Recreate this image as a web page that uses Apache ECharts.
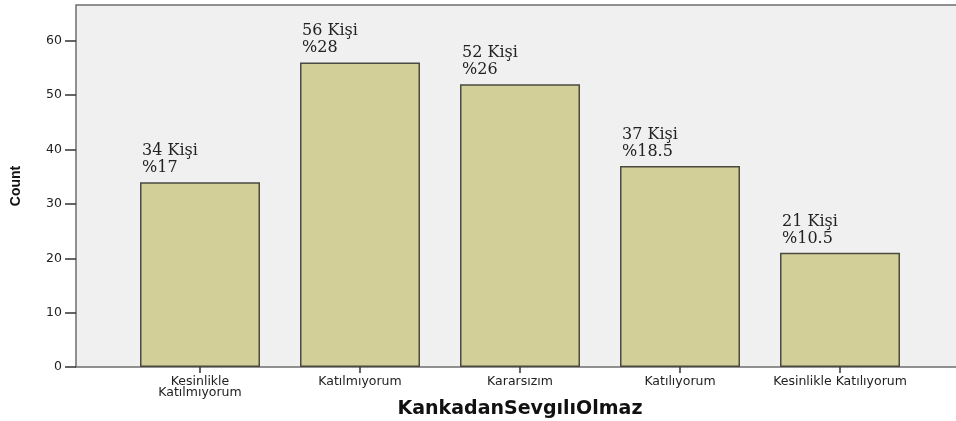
<!DOCTYPE html>
<html><head><meta charset="utf-8">
<script src="https://cdn.jsdelivr.net/npm/echarts@6/dist/echarts.min.js"></script>
<style>html,body{margin:0;padding:0;background:#fff}#c{width:956px;height:421px}</style>
</head><body><div id="c"></div>
<script>
const categories = ["Kesinlikle\nKatılmıyorum", "Katılmıyorum", "Kararsızım", "Katılıyorum", "Kesinlikle Katılıyorum"];
const counts = [34, 56, 52, 37, 21];
const percents = ["17", "28", "26", "18.5", "10.5"];
const yTicks = [0, 10, 20, 30, 40, 50, 60];

const yMax = 66.6;
const chart = echarts.init(document.getElementById('c'), null, {renderer: 'canvas'});
chart.setOption({
  backgroundColor: '#ffffff',
  animation: false,
  grid: [
    {left: 76, top: 5, right: -4, bottom: 54, show: true, backgroundColor: '#f0f0f0', borderColor: '#6e6e6e', borderWidth: 1.5, outerBoundsMode: 'none', containLabel: false},
    {left: 120, top: 5, right: 36, bottom: 54, outerBoundsMode: 'none', containLabel: false}
  ],
  xAxis: [
    {gridIndex: 0, type: 'category', data: ['a'], show: false},
    {gridIndex: 1, type: 'category', data: categories,
     axisLine: {show: false},
     axisTick: {show: true, alignWithLabel: true, length: 6, lineStyle: {color: '#333', width: 1.5}},
     axisLabel: {color: '#222', fontFamily: 'DejaVu Sans', fontSize: 12.5, lineHeight: 11, margin: 9, interval: 0},
     name: 'KankadanSevgılıOlmaz', nameLocation: 'middle', nameGap: 33, nameMoveOverlap: false,
     nameTextStyle: {fontFamily: 'DejaVu Sans', fontWeight: 'bold', fontSize: 19, color: '#111'}}
  ],
  yAxis: [
    {gridIndex: 0, type: 'value', min: 0, max: yMax, interval: 10,
     name: 'Count', nameLocation: 'middle', nameGap: 53, nameRotate: 90, nameMoveOverlap: false,
     nameTextStyle: {fontFamily: 'Liberation Sans Narrow, Liberation Sans', fontWeight: 'bold', fontSize: 14, color: '#111'},
     axisLine: {show: false},
     axisTick: {show: true, length: 11, customValues: yTicks, lineStyle: {color: '#333', width: 1.5}},
     splitLine: {show: false},
     axisLabel: {color: '#222', fontFamily: 'DejaVu Sans', fontSize: 12.5, margin: 14, customValues: yTicks}},
    {gridIndex: 1, type: 'value', min: 0, max: yMax, interval: 10, show: false}
  ],
  series: [{
    type: 'bar', xAxisIndex: 1, yAxisIndex: 1,
    data: counts,
    barWidth: 120,
    itemStyle: {color: '#d3cf98', borderColor: '#4a4a40', borderWidth: 1.5},
    label: {
      show: true, position: [2, -40], align: 'left', verticalAlign: 'top',
      fontFamily: 'DejaVu Serif', fontSize: 16, lineHeight: 17, color: '#222',
      formatter: p => counts[p.dataIndex] + ' Kişi\n%' + percents[p.dataIndex]
    }
  }]
});
</script></body></html>
